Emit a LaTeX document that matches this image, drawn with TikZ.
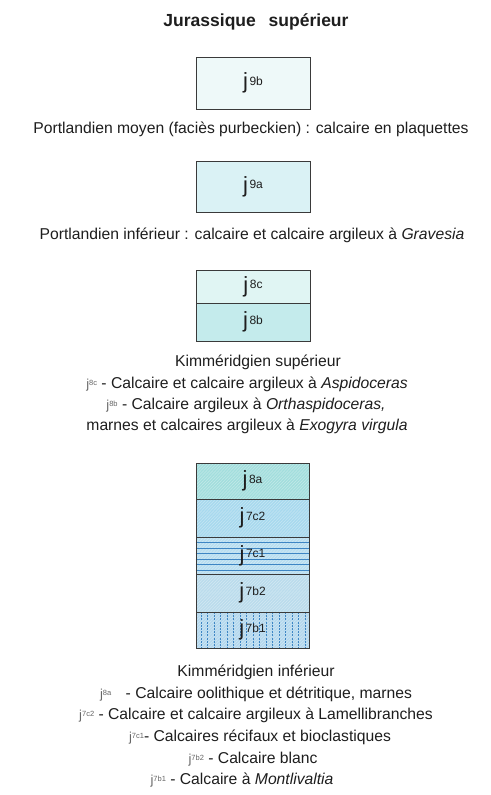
\documentclass[tikz,border=0pt]{standalone}
\usepackage{fontspec}
\setmainfont{Liberation Sans}
\usetikzlibrary{backgrounds}
\definecolor{c9b}{HTML}{EEF9F9}
\definecolor{c9a}{HTML}{DAF2F5}
\definecolor{c8c}{HTML}{E0F5F3}
\definecolor{c8b}{HTML}{C4EBEC}
\definecolor{c8a}{HTML}{A3DEDD}
\definecolor{c7c2}{HTML}{A8D9EE}
\definecolor{c7c1}{HTML}{B8DEF0}
\definecolor{c7b2}{HTML}{BBDCEC}
\definecolor{c7b1}{HTML}{B4D8EE}
\definecolor{hl}{HTML}{3E86C4}
\definecolor{edge}{HTML}{3A3A3A}
\definecolor{txt}{HTML}{1E1E1E}
\newcommand\jbox[1]{{\fontsize{22}{22}\selectfont j}\hspace{1.5pt}\raisebox{3.2pt}{\fontsize{12}{12}\selectfont #1}}
\newcommand\jtxt[1]{{\color{black!60}\fontsize{13}{13}\selectfont j\raisebox{2.5pt}{\fontsize{7.5}{7.5}\selectfont #1}}}
\tikzset{
  box/.style={draw=edge, line width=0.8pt, minimum width=114pt, inner sep=0pt, text=txt},
  stratum/.style={draw=edge, line width=0.8pt, minimum width=113pt, inner sep=0pt, text=txt},
  line/.style={anchor=base, inner sep=0pt, text=txt, font=\fontsize{15.7}{18}\selectfont},
  title/.style={anchor=base, inner sep=0pt, text=txt, font=\fontsize{17.5}{20}\selectfont\bfseries}
}
\begin{document}
\begin{tikzpicture}[x=1pt,y=-1pt]
\useasboundingbox (0,0) rectangle (490,795);

\node[title] (t) at (256,26) {Jurassique\hspace{8pt} supérieur};

% Portlandien moyen
\node[box, fill=c9b, minimum height=52pt] (b9b) at (253,83) {\jbox{9b}};
\node[line] (l1) at (251,133) {Portlandien moyen (faciès purbeckien) : calcaire en plaquettes};

% Portlandien inferieur
\node[box, fill=c9a, minimum height=51pt] (b9a) at (253,186.5) {\jbox{9a}};
\node[line] (l2) at (252,239) {Portlandien inférieur : calcaire et calcaire argileux à \textit{Gravesia}};

% Kimmeridgien superieur
\node[box, fill=c8c, minimum height=33pt] (b8c) at (253,286.5) {\jbox{8c}};
\node[box, fill=c8b, minimum height=38pt] (b8b) at (253,322) {\jbox{8b}};
\node[line] (k1) at (258,366) {Kimméridgien supérieur};
\node[line] (k2) at (247,388) {\jtxt{8c} - Calcaire et calcaire argileux à \textit{Aspidoceras}};
\node[line] (k3) at (246,409) {\jtxt{8b} - Calcaire argileux à \textit{Orthaspidoceras,}};
\node[line] (k4) at (247,430) {marnes et calcaires argileux à \textit{Exogyra virgula}};

% Kimmeridgien inferieur stack
\node[stratum, minimum height=36pt] (s1) at (252.5,481) {\jbox{8a}};
\node[stratum, minimum height=38pt] (s2) at (252.5,518) {\jbox{7c2}};
\node[stratum, minimum height=37pt] (s3) at (252.5,555.5) {\jbox{7c1}};
\node[stratum, minimum height=38pt] (s4) at (252.5,593) {\jbox{7b2}};
\node[stratum, minimum height=36pt] (s5) at (252.5,630) {\jbox{7b1}};
\begin{scope}[on background layer]
  \fill[white] (0,0) rectangle (490,795);
  \fill[c8a] (s1.north west) rectangle (s1.south east);
  \fill[c7c2] (s2.north west) rectangle (s2.south east);
  \fill[c7c1] (s3.north west) rectangle (s3.south east);
  \fill[c7b2] (s4.north west) rectangle (s4.south east);
  \fill[c7b1] (s5.north west) rectangle (s5.south east);
  % fine diagonal texture
  \begin{scope}
    \clip (s1.north west) rectangle (s5.south east);
    \foreach \k in {0,3,...,320} {
      \draw[white, opacity=0.35, line width=0.5pt] (196+\k-190,663) -- (196+\k,463);
    }
  \end{scope}
  % horizontal lines of j7c1
  \foreach \yy in {542.5,548,553.5,559,564.5,570} {
    \draw[hl, line width=0.9pt] (s3.west |- 0,\yy) -- (s3.east |- 0,\yy);
  }
  % vertical dashed lines of j7b1
  \foreach \xx in {201,207.5,...,306} {
    \draw[hl, line width=0.7pt, dash pattern=on 2pt off 1.2pt] (\xx,612) -- (\xx,648);
  }
\end{scope}

\node[line] (m1) at (256,676) {Kimméridgien inférieur};
\node[line] (m2) at (256,698) {\jtxt{8a}\hspace{10pt} - Calcaire oolithique et détritique, marnes};
\node[line] (m3) at (256,719) {\jtxt{7c2} - Calcaire et calcaire argileux à Lamellibranches};
\node[line] (m4) at (260,741) {\jtxt{7c1}- Calcaires récifaux et bioclastiques};
\node[line] (m5) at (253,763) {\jtxt{7b2} - Calcaire blanc};
\node[line] (m6) at (242,784) {\jtxt{7b1} - Calcaire à \textit{Montlivaltia}};
\end{tikzpicture}
\end{document}
